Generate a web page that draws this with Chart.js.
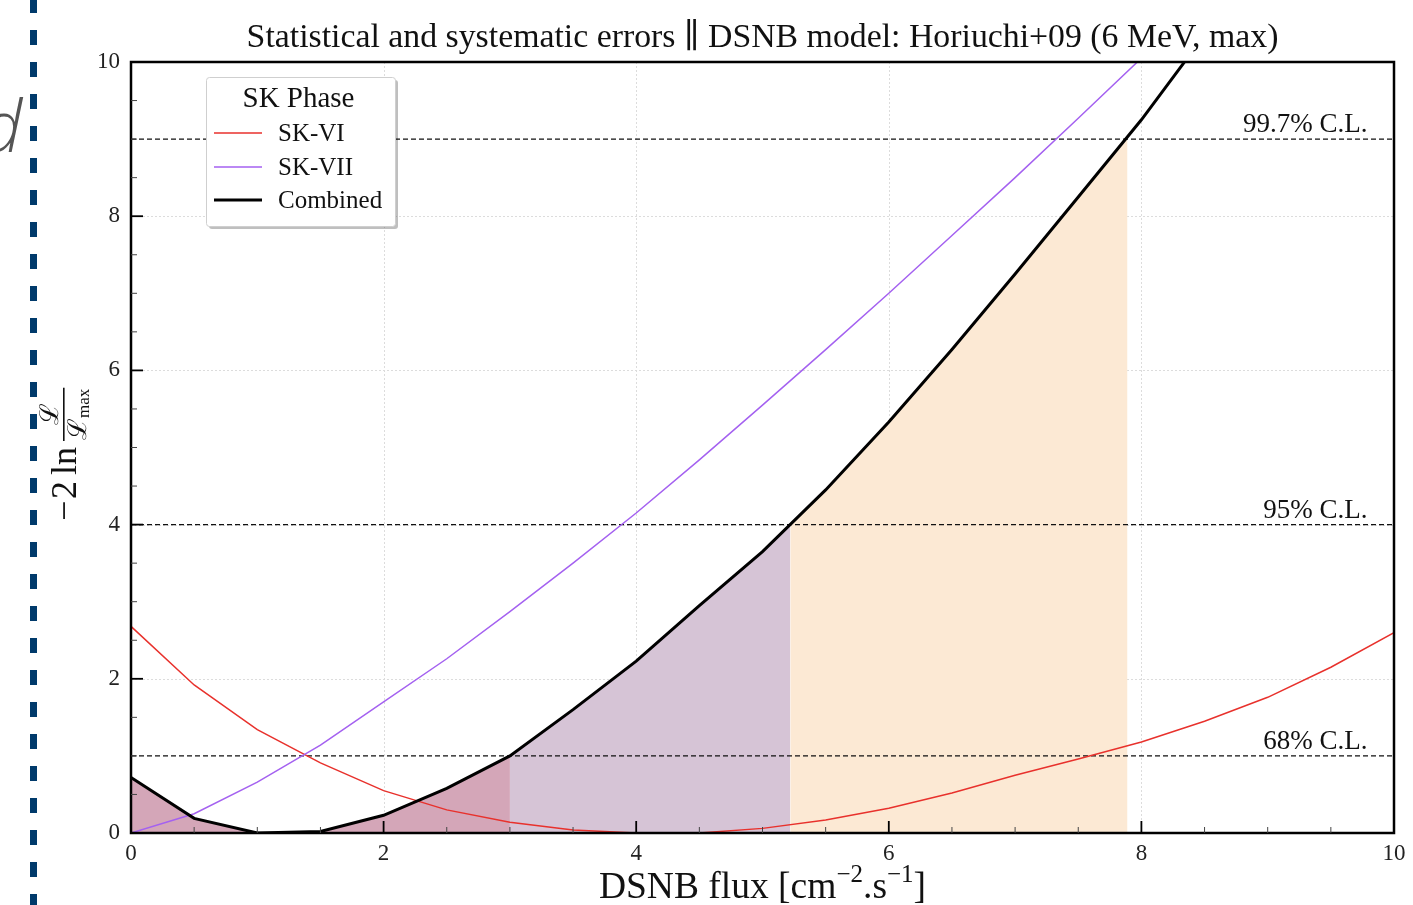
<!DOCTYPE html>
<html><head><meta charset="utf-8">
<script src="https://cdn.jsdelivr.net/npm/chart.js@4.4.1/dist/chart.umd.min.js"></script>
<style>
html,body{margin:0;padding:0;background:#fff;overflow:hidden;}
#wrap{position:relative;width:1413px;height:905px;overflow:hidden;}
#bar{position:absolute;left:30px;top:-2px;width:7px;height:910px;background:repeating-linear-gradient(to bottom,#003a6b 0 15px,transparent 15px 32px);}
#dl{position:absolute;left:-19px;top:88px;font:italic 300 72px 'Open Sans';line-height:72px;color:#555;}
canvas{position:absolute;left:0;top:0;}
</style></head><body>
<div id="wrap"><canvas id="c" width="1413" height="905"></canvas><div id="bar"></div><div id="dl">d</div></div>
<script>
// ---- data ----
const flux = [0,0.5,1,1.5,2,2.5,3,3.5,4,4.5,5,5.5,6,6.5,7,7.5,8,8.5,9,9.5,10];
const skVI = [2.68,1.92,1.34,0.91,0.55,0.30,0.14,0.04,0.0,0.0,0.06,0.17,0.32,0.52,0.75,0.96,1.18,1.45,1.76,2.15,2.6];
const skVII = [0.0,0.25,0.66,1.14,1.70,2.26,2.87,3.50,4.15,4.84,5.55,6.27,7.00,7.75,8.50,9.27,10.05];
const combined = [0.72,0.19,0.0,0.02,0.23,0.58,1.0,1.6,2.23,2.95,3.65,4.45,5.33,6.27,7.25,8.25,9.25,10.35];
const clLevels = [1, 4, 9];
const clNames = ['68% C.L.', '95% C.L.', '99.7% C.L.'];
const clLimits = [3.0, 5.22, 7.89];
const xTicks = [0,2,4,6,8,10];
const yTicks = [0,2,4,6,8,10];
const titleText = 'Statistical and systematic errors \u2225 DSNB model: Horiuchi+09 (6 MeV, max)';
const seriesNames = ['SK-VI', 'SK-VII', 'Combined'];
const legendTitle = 'SK Phase';

// ---- build ----
const pts = (ys) => ys.map((y, i) => ({x: flux[i], y}));
const combPts = pts(combined);
const regionColors = ['rgb(212,166,184)', 'rgb(214,196,214)', 'rgb(252,233,212)'];
const regions = clLimits.map((hi, i) => {
  const lo = i === 0 ? 0 : clLimits[i - 1];
  let p = combPts.filter(q => q.x >= lo && q.x <= hi);
  if (i > 0 && !p.some(q => q.x === lo)) p.unshift({x: lo, y: clLevels[i - 1]});
  if (!p.some(q => q.x === hi)) p.push({x: hi, y: clLevels[i]});
  return {data: p, fill: 'origin', backgroundColor: regionColors[i], borderWidth: 0, pointRadius: 0, order: 10};
});
const clLines = clLevels.map(l => ({data: [{x: xTicks[0], y: l}, {x: xTicks[xTicks.length - 1], y: l}],
  borderColor: '#111', borderWidth: 1.4, borderDash: [5, 3], pointRadius: 0, fill: false, order: 5}));
const colRed = '#e8312c', colPur = '#a461f0', colBlk = '#000';
const lineSets = [
  {data: pts(skVI), borderColor: colRed, borderWidth: 1.5, pointRadius: 0, fill: false, order: 3},
  {data: pts(skVII), borderColor: colPur, borderWidth: 1.5, pointRadius: 0, fill: false, order: 2},
  {data: combPts, borderColor: colBlk, borderWidth: 3, pointRadius: 0, fill: false, order: 1, borderJoinStyle: 'miter'}
];

const SERIF = "'Liberation Serif', 'DejaVu Serif', serif";

const deco = {
  id: 'deco',
  beforeDatasetsDraw(chart) {
    const {ctx, chartArea: a, scales: {x, y}} = chart;
    ctx.save();
    ctx.strokeStyle = '#dcdcdc'; ctx.lineWidth = 1; ctx.setLineDash([2, 2]);
    xTicks.slice(1, -1).forEach(v => { const px = Math.round(x.getPixelForValue(v)) + 0.5; ctx.beginPath(); ctx.moveTo(px, a.top); ctx.lineTo(px, a.bottom); ctx.stroke(); });
    yTicks.slice(1, -1).forEach(v => { const py = Math.round(y.getPixelForValue(v)) + 0.5; ctx.beginPath(); ctx.moveTo(a.left, py); ctx.lineTo(a.right, py); ctx.stroke(); });
    ctx.restore();
  },
  afterDraw(chart) {
    const {ctx, chartArea: a, scales: {x, y}} = chart;
    ctx.save();
    // CL labels
    ctx.fillStyle = '#111'; ctx.font = '27px ' + SERIF; ctx.textAlign = 'right'; ctx.textBaseline = 'alphabetic';
    clLevels.forEach((l, i) => ctx.fillText(clNames[i], x.getPixelForValue(9.79), y.getPixelForValue(l) - 7));
    // frame
    ctx.strokeStyle = '#000'; ctx.lineWidth = 2.5; ctx.setLineDash([]);
    ctx.strokeRect(a.left, a.top, a.right - a.left, a.bottom - a.top);
    // inward ticks
    for (let k = 0; k <= 20; k++) {
      const v = k * 0.5, major = (k % 4 === 0);
      const L = major ? 12 : 6;
      ctx.lineWidth = major ? 1.8 : 1;
      ctx.strokeStyle = major ? '#000' : '#444';
      const px = x.getPixelForValue(v);
      ctx.beginPath(); ctx.moveTo(px, a.bottom); ctx.lineTo(px, a.bottom - L); ctx.stroke();
      const py = y.getPixelForValue(v);
      ctx.beginPath(); ctx.moveTo(a.left, py); ctx.lineTo(a.left + L, py); ctx.stroke();
    }
    // title
    ctx.fillStyle = '#111'; ctx.font = '33.8px ' + SERIF; ctx.textAlign = 'center'; ctx.textBaseline = 'alphabetic';
    ctx.fillText(titleText, (a.left + a.right) / 2, 47);
    // x axis label
    const parts = [['DSNB flux [cm', 0], ['\u22122', 1], ['.s', 0], ['\u22121', 1], [']', 0]];
    const fm = '37.5px ' + SERIF, fs = '25px ' + SERIF;
    let tw = 0; parts.forEach(p => { ctx.font = p[1] ? fs : fm; tw += ctx.measureText(p[0]).width; });
    let cx = (a.left + a.right) / 2 - tw / 2; ctx.textAlign = 'left';
    parts.forEach(p => { ctx.font = p[1] ? fs : fm; ctx.fillText(p[0], cx, p[1] ? 882 : 898); cx += ctx.measureText(p[0]).width; });
    // y axis label
    ctx.translate(76, 521); ctx.rotate(-Math.PI / 2);
    ctx.font = '36px ' + SERIF; ctx.textAlign = 'left';
    ctx.fillText('\u2212', 0, 0);
    ctx.fillText('2', 22, 0);
    ctx.fillText('ln', 46, 0);
    const w0 = 46 + ctx.measureText('ln').width + 6;
    ctx.font = '26px ' + SERIF;
    const wd = ctx.measureText('\u2112').width; ctx.font = '17px ' + SERIF; const wm = ctx.measureText('max').width;
    const fw = wd + wm + 2;
    ctx.fillRect(w0, -13, fw, 1.6);
    ctx.font = '26px ' + SERIF; ctx.textAlign = 'center';
    ctx.fillText('\u2112', w0 + fw / 2, -18);
    ctx.textAlign = 'left';
    ctx.fillText('\u2112', w0 + 1, 10);
    ctx.font = '17px ' + SERIF; ctx.fillText('max', w0 + 1 + wd, 13);
    ctx.restore();
    // legend
    ctx.save();
    const bx = 206, by = 77, bw = 189, bh = 149;
    ctx.fillStyle = 'rgba(0,0,0,0.25)';
    ctx.beginPath(); ctx.roundRect(bx + 3, by + 3, bw, bh, 3); ctx.fill();
    ctx.fillStyle = '#fff'; ctx.strokeStyle = '#cfcfcf'; ctx.lineWidth = 1;
    ctx.beginPath(); ctx.roundRect(bx + 0.5, by + 0.5, bw, bh, 3); ctx.fill(); ctx.stroke();
    ctx.fillStyle = '#111'; ctx.font = '29px ' + SERIF; ctx.textAlign = 'center'; ctx.textBaseline = 'alphabetic';
    ctx.fillText(legendTitle, bx + bw / 2 - 2, 107);
    const cols = [colRed, colPur, colBlk], widths = [1.5, 1.5, 3], ys = [133, 167, 200];
    ctx.textAlign = 'left'; ctx.font = '25px ' + SERIF;
    seriesNames.forEach((n, i) => {
      ctx.strokeStyle = cols[i]; ctx.lineWidth = widths[i];
      ctx.beginPath(); ctx.moveTo(214, ys[i]); ctx.lineTo(262, ys[i]); ctx.stroke();
      ctx.fillStyle = '#111'; ctx.fillText(n, 278, ys[i] + 8);
    });
    ctx.restore();
  }
};

new Chart(document.getElementById('c'), {
  type: 'line',
  data: {datasets: [...lineSets, ...clLines, ...regions]},
  options: {
    responsive: false, animation: false, parsing: true,
    layout: {padding: {top: 62, right: 19, left: 0, bottom: 0}},
    plugins: {legend: {display: false}, title: {display: false}, tooltip: {enabled: false}},
    elements: {line: {tension: 0}},
    scales: {
      x: {type: 'linear', min: 0, max: 10,
        afterFit: s => { s.height = 72; },
        afterBuildTicks: s => { s.ticks = xTicks.map(v => ({value: v})); },
        grid: {display: false, drawTicks: false}, border: {display: false},
        ticks: {padding: 7, color: '#222', font: {family: SERIF, size: 23}, maxRotation: 0}},
      y: {type: 'linear', min: 0, max: 10,
        afterFit: s => { s.width = 131; },
        afterBuildTicks: s => { s.ticks = yTicks.map(v => ({value: v})); },
        grid: {display: false, drawTicks: false}, border: {display: false},
        ticks: {padding: 11, color: '#222', font: {family: SERIF, size: 23}}}
    }
  },
  plugins: [deco]
});
</script>
</body></html>
